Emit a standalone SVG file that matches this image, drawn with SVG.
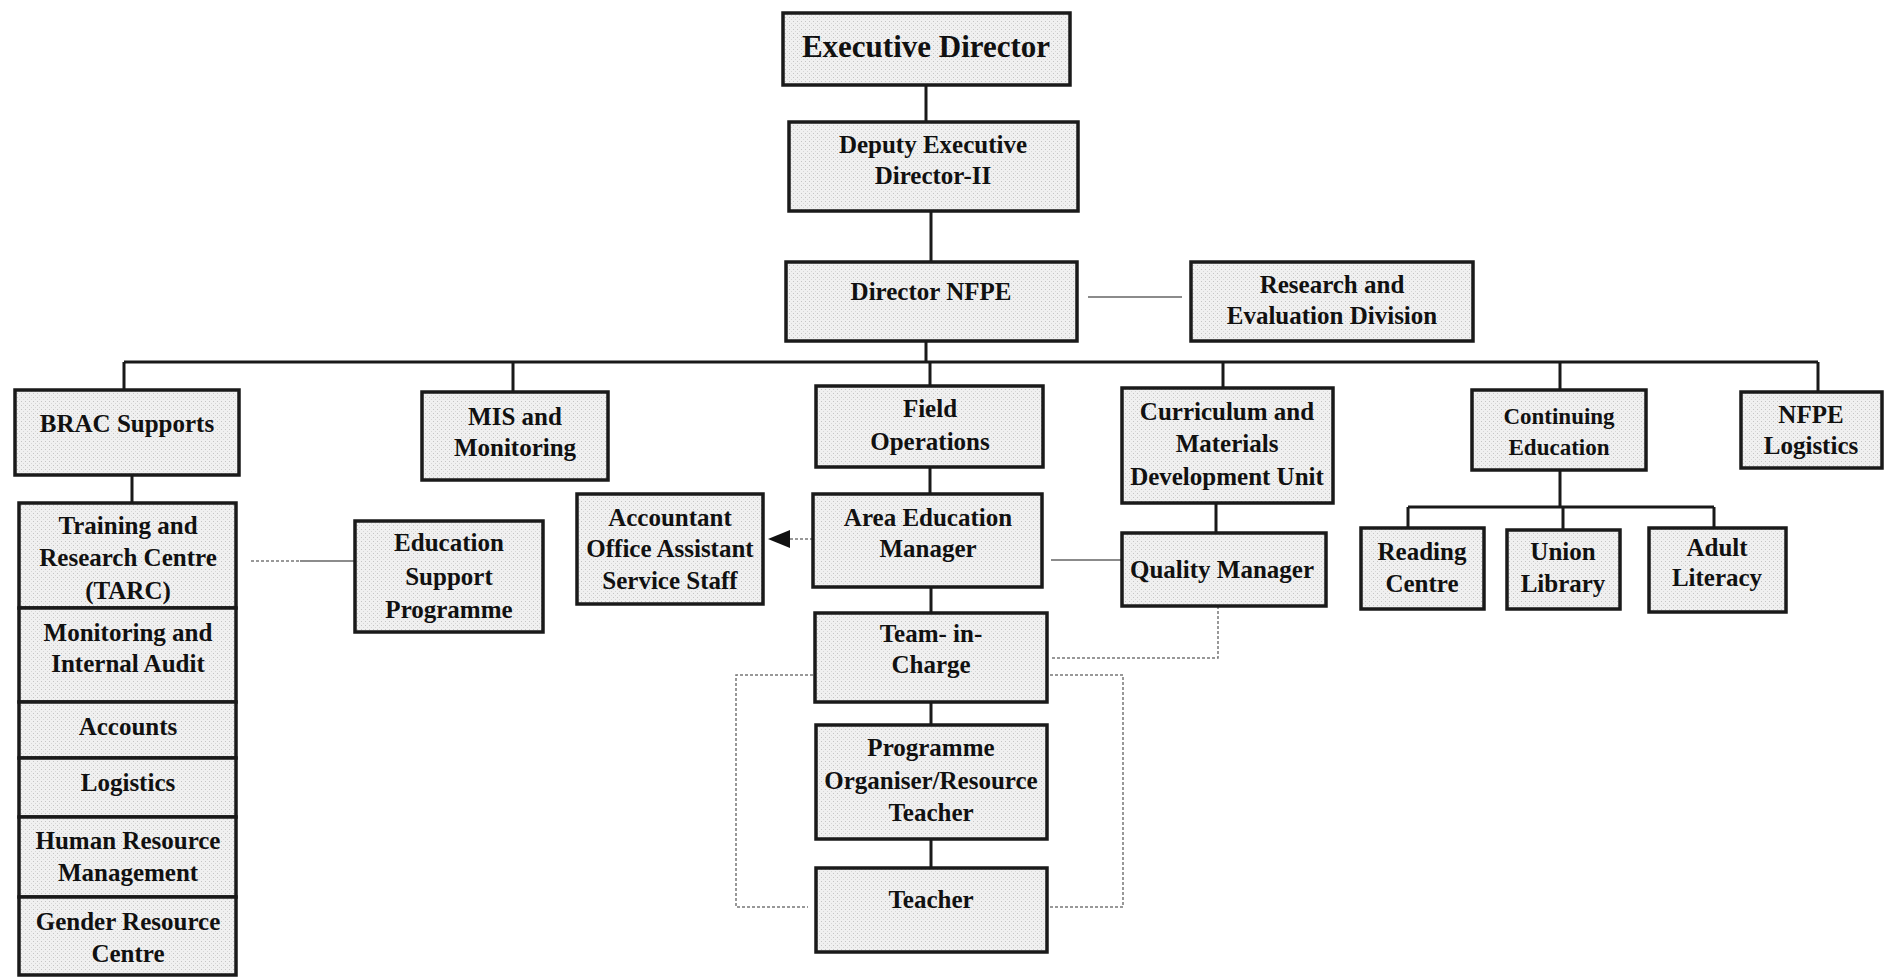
<svg xmlns="http://www.w3.org/2000/svg" width="1884" height="977" viewBox="0 0 1884 977">
<style>
.b{fill:url(#stip);stroke:#1a1a1a;stroke-width:3.5}
.t{font-family:"Liberation Serif","Times New Roman",serif;font-weight:bold;font-size:25px;fill:#111;text-anchor:middle}
.c{fill:none;stroke:#1a1a1a;stroke-width:3}
.d{fill:none;stroke:#777;stroke-width:1.5;stroke-dasharray:3 2}
.s{fill:none;stroke:#666;stroke-width:1.5}
</style>
<defs>
<pattern id="stip" width="4" height="4" patternUnits="userSpaceOnUse">
<rect width="4" height="4" fill="#f0f0f0"/>
<rect x="1" y="1" width="1" height="1" fill="#c4c4c4"/>
<rect x="3" y="3" width="1" height="1" fill="#d6d6d6"/>
</pattern>
</defs>
<rect width="1884" height="977" fill="#fff"/>
<g id="connectors">
<path class="c" d="M926 85V122M931 211V262M926 341V362M124 362H1818M124 362V390M513 362V392M930 362V386M1223 362V388M1560 362V390M1818 362V392"/>
<path class="c" d="M1560 470V507M1408 507H1714M1408 507V528M1563 507V530M1714 507V528"/>
<path class="c" d="M132 475V503M930 467V494M931 587V613M931 702V725M931 839V868M1216 503V533"/>
<path class="s" d="M1088 297H1182M1051 560H1122"/>
<path class="d" d="M251 561H300"/><path class="s" d="M300 561H355"/>
<path class="d" d="M813 539H789"/>
<polygon points="768,539 790,530 790,548" fill="#111"/>
<path class="d" d="M1218 606V658H1050"/>
<path class="d" d="M813 675H736V907H808"/>
<path class="d" d="M1050 675H1123V907H1050"/>
</g>
<g id="executive-director"><rect class="b" x="783" y="13" width="287" height="72"/><text class="t" x="926" y="57" style="font-size:31px">Executive Director</text></g>
<g id="deputy-executive-director"><rect class="b" x="789" y="122" width="289" height="89"/><text class="t" x="933" y="153">Deputy Executive</text><text class="t" x="933" y="184">Director-II</text></g>
<g id="director-nfpe"><rect class="b" x="786" y="262" width="291" height="79"/><text class="t" x="931" y="300">Director NFPE</text></g>
<g id="research-evaluation"><rect class="b" x="1191" y="262" width="282" height="79"/><text class="t" x="1332" y="293">Research and</text><text class="t" x="1332" y="324">Evaluation Division</text></g>
<g id="brac-supports"><rect class="b" x="15" y="390" width="224" height="85"/><text class="t" x="127" y="432">BRAC Supports</text></g>
<g id="mis-monitoring"><rect class="b" x="422" y="392" width="186" height="88"/><text class="t" x="515" y="425">MIS and</text><text class="t" x="515" y="456">Monitoring</text></g>
<g id="field-operations"><rect class="b" x="816" y="386" width="227" height="81"/><text class="t" x="930" y="417">Field</text><text class="t" x="930" y="450">Operations</text></g>
<g id="curriculum-unit"><rect class="b" x="1122" y="388" width="211" height="115"/><text class="t" x="1227" y="420">Curriculum and</text><text class="t" x="1227" y="452">Materials</text><text class="t" x="1227" y="485">Development Unit</text></g>
<g id="continuing-education"><rect class="b" x="1472" y="390" width="174" height="80"/><text class="t" x="1559" y="424" style="font-size:23px">Continuing</text><text class="t" x="1559" y="455" style="font-size:23px">Education</text></g>
<g id="nfpe-logistics"><rect class="b" x="1741" y="392" width="141" height="76"/><text class="t" x="1811" y="423">NFPE</text><text class="t" x="1811" y="454">Logistics</text></g>
<g id="tarc"><rect class="b" x="19" y="503" width="217" height="105"/><text class="t" x="128" y="534">Training and</text><text class="t" x="128" y="566">Research Centre</text><text class="t" x="128" y="599">(TARC)</text></g>
<g id="monitoring-audit"><rect class="b" x="19" y="608" width="217" height="94"/><text class="t" x="128" y="641">Monitoring and</text><text class="t" x="128" y="672">Internal Audit</text></g>
<g id="accounts"><rect class="b" x="19" y="702" width="217" height="56"/><text class="t" x="128" y="735">Accounts</text></g>
<g id="logistics"><rect class="b" x="19" y="758" width="217" height="59"/><text class="t" x="128" y="791">Logistics</text></g>
<g id="hrm"><rect class="b" x="19" y="817" width="217" height="80"/><text class="t" x="128" y="849">Human Resource</text><text class="t" x="128" y="881">Management</text></g>
<g id="gender-resource"><rect class="b" x="19" y="897" width="217" height="78"/><text class="t" x="128" y="930">Gender Resource</text><text class="t" x="128" y="962">Centre</text></g>
<g id="education-support"><rect class="b" x="355" y="521" width="188" height="111"/><text class="t" x="449" y="551">Education</text><text class="t" x="449" y="585">Support</text><text class="t" x="449" y="618">Programme</text></g>
<g id="assistant-staff"><rect class="b" x="577" y="494" width="186" height="110"/><text class="t" x="670" y="526">Accountant</text><text class="t" x="670" y="557">Office Assistant</text><text class="t" x="670" y="589">Service Staff</text></g>
<g id="area-education-manager"><rect class="b" x="813" y="494" width="229" height="93"/><text class="t" x="928" y="526">Area Education</text><text class="t" x="928" y="557">Manager</text></g>
<g id="quality-manager"><rect class="b" x="1122" y="533" width="204" height="73"/><text class="t" x="1222" y="578">Quality Manager</text></g>
<g id="team-in-charge"><rect class="b" x="815" y="613" width="232" height="89"/><text class="t" x="931" y="642">Team- in-</text><text class="t" x="931" y="673">Charge</text></g>
<g id="programme-organiser"><rect class="b" x="816" y="725" width="231" height="114"/><text class="t" x="931" y="756">Programme</text><text class="t" x="931" y="789">Organiser/Resource</text><text class="t" x="931" y="821">Teacher</text></g>
<g id="teacher"><rect class="b" x="816" y="868" width="231" height="84"/><text class="t" x="931" y="908">Teacher</text></g>
<g id="reading-centre"><rect class="b" x="1361" y="528" width="123" height="81"/><text class="t" x="1422" y="560">Reading</text><text class="t" x="1422" y="592">Centre</text></g>
<g id="union-library"><rect class="b" x="1507" y="530" width="113" height="79"/><text class="t" x="1563" y="560">Union</text><text class="t" x="1563" y="592">Library</text></g>
<g id="adult-literacy"><rect class="b" x="1649" y="528" width="137" height="84"/><text class="t" x="1717" y="556">Adult</text><text class="t" x="1717" y="586">Literacy</text></g>
</svg>
